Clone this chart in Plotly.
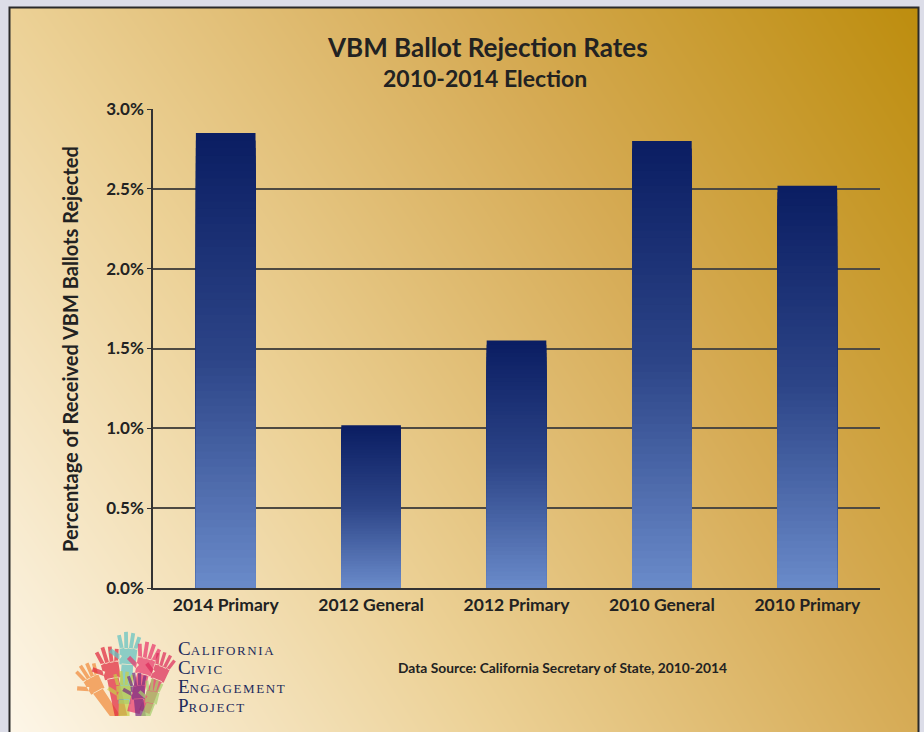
import math
import plotly.graph_objects as go

# ---------------- data ----------------
categories = ["2014 Primary", "2012 General", "2012 Primary", "2010 General", "2010 Primary"]
rejection_rates = [2.85, 1.02, 1.55, 2.80, 2.52]
y_tick_values = [0.0, 0.5, 1.0, 1.5, 2.0, 2.5, 3.0]
y_tick_labels = ["0.0%", "0.5%", "1.0%", "1.5%", "2.0%", "2.5%", "3.0%"]
title_text = "VBM Ballot Rejection Rates"
subtitle_text = "2010-2014 Election"
y_title = "Percentage of Received VBM Ballots Rejected"
source_text = "Data Source: California Secretary of State, 2010-2014"
logo_lines = ["CALIFORNIA", "CIVIC", "ENGAGEMENT", "PROJECT"]

W, H = 924, 732


def px(x):
    return x / W


def py(y):
    return 1 - y / H


def hex_to_rgb(h):
    h = h.lstrip("#")
    return tuple(int(h[i:i + 2], 16) for i in (0, 2, 4))


def interp_color(stops, f):
    for (f0, c0), (f1, c1) in zip(stops[:-1], stops[1:]):
        if f0 <= f <= f1:
            t = (f - f0) / (f1 - f0) if f1 > f0 else 0
            a, b = hex_to_rgb(c0), hex_to_rgb(c1)
            return "rgb(%d,%d,%d)" % tuple(round(a[i] + (b[i] - a[i]) * t) for i in range(3))
    return stops[-1][1]


bar_stops = [(0.0, "#6a8bca"), (0.5, "#2d4588"), (1.0, "#0a1d62")]

fig = go.Figure()

# background gradient panel
fig.add_trace(go.Heatmap(
    z=[[0.0, 0.68], [0.36, 1.0]], x=[0, 1], y=[0, 1], zsmooth="best",
    colorscale=[[0.0, "#fdf6e8"], [0.36, "#ecd196"], [0.68, "#d6ab55"], [1.0, "#bd8d0e"]],
    zmin=0, zmax=1, showscale=False, hoverinfo="skip", xaxis="x", yaxis="y"))

# gradient bars (overlaid, shorter ones on top)
N = 60
for k in range(N):
    f = 1 - k / N
    col = interp_color(bar_stops, f - 0.5 / N)
    fig.add_trace(go.Bar(
        x=categories, y=[v * f for v in rejection_rates], width=0.41,
        marker=dict(color=col, line=dict(width=0)),
        hoverinfo="skip", showlegend=False, xaxis="x2", yaxis="y2"))

font_bold = dict(family="Lato", color="#222222", weight="bold")

annotations = [
    dict(text=title_text, x=px(487), y=py(47), font=dict(size=26, **font_bold)),
    dict(text=subtitle_text, x=px(485), y=py(78), font=dict(size=23, **font_bold)),
    dict(text=y_title, x=px(70), y=py(349), textangle=-90, font=dict(size=20, **font_bold)),
    dict(text=source_text, x=px(562), y=py(667), font=dict(size=13.8, **font_bold)),
]
for i, line in enumerate(logo_lines):
    annotations.append(dict(
        text="<span style='font-size:19px'>%s</span><span style='letter-spacing:1.6px'>%s</span>" % (line[0], line[1:]),
        x=px(176), y=py(648 + i * 19.3), xanchor="left",
        font=dict(family="Liberation Serif", size=13, color="#1d2b5c")))
for a in annotations:
    a.update(xref="paper", yref="paper", showarrow=False)
    a.setdefault("xanchor", "center")
    a.setdefault("yanchor", "middle")

# logo hands
def hand_path(cx, cy, s, ang):
    polys = []
    polys.append([(-0.5, 0.55), (0.5, 0.55), (0.56, -0.5), (-0.56, -0.5)])  # palm
    polys.append([(-0.36, 0.5), (0.36, 0.5), (0.4, 3.0), (-0.4, 3.0)])  # arm
    for bx, fa, ln in [(-0.42, -16, 0.85), (-0.14, -5, 1.05), (0.14, 5, 1.0), (0.42, 15, 0.8)]:
        r = math.radians(fa)
        w = 0.12
        ux, uy = math.sin(r), -math.cos(r)
        nx, ny = math.cos(r), math.sin(r)
        b = (bx, -0.45)
        polys.append([(b[0] - nx * w, b[1] - ny * w), (b[0] + nx * w, b[1] + ny * w),
                      (b[0] + nx * w + ux * ln, b[1] + ny * w + uy * ln),
                      (b[0] - nx * w + ux * ln, b[1] - ny * w + uy * ln)])
    r = math.radians(-58)
    ux, uy = math.sin(r), -math.cos(r)
    nx, ny = math.cos(r), math.sin(r)
    b = (-0.45, 0.15)
    w, ln = 0.14, 0.8
    polys.append([(b[0] - nx * w, b[1] - ny * w), (b[0] + nx * w, b[1] + ny * w),
                  (b[0] + nx * w + ux * ln, b[1] + ny * w + uy * ln),
                  (b[0] - nx * w + ux * ln, b[1] - ny * w + uy * ln)])
    ra = math.radians(ang)
    out = ""
    for poly in polys:
        pts = []
        for (x, y) in poly:
            xr = x * math.cos(ra) - y * math.sin(ra)
            yr = x * math.sin(ra) + y * math.cos(ra)
            X, Y = cx + xr * s, cy + yr * s
            Y = min(Y, 716)
            pts.append("%.5f,%.5f" % (px(X), py(Y)))
        out += "M" + " L".join(pts) + " Z "
    return out


hands = [
    (94, 684, 15, -28, "#f08a3c"),
    (111, 670, 16, -12, "#e0283e"),
    (128, 656, 16, 4, "#62c2c2"),
    (124, 692, 14, 0, "#c8d046"),
    (145, 666, 16, 14, "#e8386c"),
    (160, 673, 14, 22, "#dd2c5c"),
    (138, 692, 13, -4, "#7a2f82"),
    (152, 697, 12, 10, "#a6cf6c"),
]
shapes = []
for cx, cy, s, ang, col in hands:
    shapes.append(dict(type="path", path=hand_path(cx, cy, s, ang), xref="paper", yref="paper",
                       fillcolor=col, opacity=0.72, line=dict(width=0), layer="above"))

# panel border
shapes.append(dict(type="rect", xref="paper", yref="paper", x0=px(9.5), x1=px(918.5), y0=py(740), y1=py(7.5),
                   line=dict(color="#2a2a2a", width=2), fillcolor="rgba(0,0,0,0)", layer="above"))

fig.update_layout(
    width=W, height=H, margin=dict(l=0, r=0, t=0, b=0, autoexpand=False),
    paper_bgcolor="#dcdde8", plot_bgcolor="rgba(0,0,0,0)",
    barmode="overlay", showlegend=False,
    xaxis=dict(domain=[px(10), px(918)], range=[0, 1], visible=False, fixedrange=True),
    yaxis=dict(domain=[0, py(8)], range=[0, 1], visible=False, fixedrange=True),
    xaxis2=dict(domain=[px(153), px(880)], anchor="y2", range=[-0.5, 4.5],
                showline=True, linecolor="#333333", linewidth=1.5, ticks="",
                showgrid=False, tickfont=dict(size=17.5, **font_bold)),
    yaxis2=dict(domain=[py(588), py(109)], anchor="x2", range=[0, 3.0],
                tickvals=y_tick_values, ticktext=y_tick_labels,
                showgrid=True, gridcolor="#4e4a42", gridwidth=1.5, zeroline=False,
                showline=True, linecolor="#333333", linewidth=1.5,
                ticks="outside", ticklen=4, tickcolor="#333333",
                tickfont=dict(size=17, **font_bold)),
    annotations=annotations, shapes=shapes,
)

fig.write_html(
    "out.html",
    config={"responsive": False, "displayModeBar": False},
    post_script="document.body.style.margin='0';document.body.style.overflow='hidden';",
)
